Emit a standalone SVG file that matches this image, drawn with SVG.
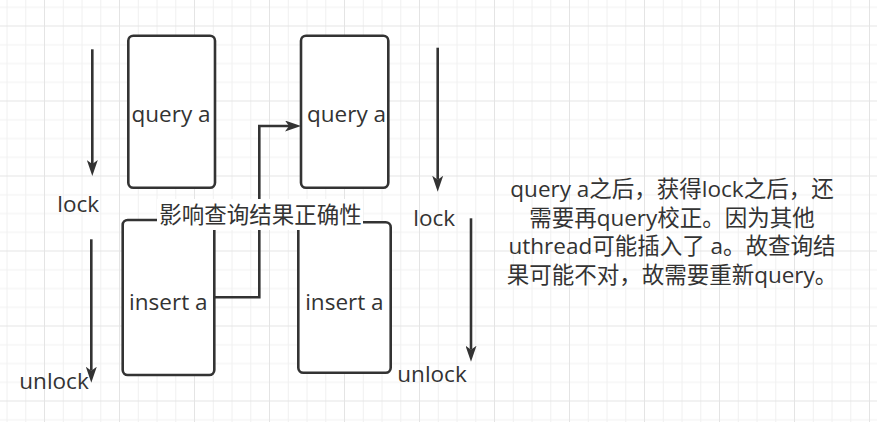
<svg xmlns="http://www.w3.org/2000/svg" width="877" height="422" viewBox="0 0 877 422">
  <style>
    .box { fill: #ffffff; stroke: #333333; stroke-width: 2.6; }
    .t { font-family: "Open Sans", "Noto Sans CJK SC", sans-serif; font-size: 22.5px; fill: #333333; }
    .c { text-anchor: middle; }
    .edge { fill: none; stroke: #333333; stroke-width: 2.6; }
    .minor { stroke: #f0f0f0; stroke-width: 1; }
    .major { stroke: #e4e4e4; stroke-width: 1; }
  </style>
  <defs>
    <pattern id="grid" patternUnits="userSpaceOnUse" x="44" y="25.5" width="75" height="75">
      <path class="minor" d="M19.25 0V75M38 0V75M56.75 0V75M0 19.25H75M0 38H75M0 56.75H75"/>
      <path class="major" d="M0.5 0V75M0 0.5H75"/>
    </pattern>
    <marker id="arrow" markerUnits="userSpaceOnUse" viewBox="0 0 16 11" markerWidth="16" markerHeight="11" refX="4" refY="5.5" orient="auto">
      <path d="M0 0L16 5.5L0 11L4 5.5Z" fill="#333333"/>
    </marker>
  </defs>
  <rect width="877" height="422" fill="#ffffff"/>
  <rect width="877" height="422" fill="url(#grid)"/>

  <g id="query-a-1">
    <rect class="box" x="128.3" y="35.7" width="86.7" height="152" rx="5"/>
    <text class="t c" x="171" y="122">query a</text>
  </g>
  <g id="query-a-2">
    <rect class="box" x="301" y="35.7" width="87.3" height="152" rx="5"/>
    <text class="t c" x="346.5" y="122">query a</text>
  </g>
  <g id="insert-a-1">
    <rect class="box" x="122.7" y="220" width="91.6" height="155" rx="5"/>
    <text class="t c" x="168.3" y="310">insert a</text>
  </g>
  <g id="insert-a-2">
    <rect class="box" x="298.3" y="222.3" width="92.4" height="150.4" rx="5"/>
    <text class="t c" x="344.4" y="310">insert a</text>
  </g>
  <g id="lock-left"><text class="t" x="57.3" y="211.5">lock</text></g>
  <g id="unlock-left"><text class="t" x="19.3" y="389">unlock</text></g>
  <g id="lock-right"><text class="t" x="413.3" y="226">lock</text></g>
  <g id="unlock-right"><text class="t" x="397.3" y="381.7">unlock</text></g>
  <g id="note">
    <text class="t c" x="672" y="197">query a之后，获得lock之后，还</text>
    <text class="t c" x="672" y="225.5">需要再query校正。因为其他</text>
    <text class="t c" x="672" y="254">uthread可能插入了 a。故查询结</text>
    <text class="t c" x="672" y="282.5">果可能不对，故需要重新query。</text>
  </g>

  <g id="connectors">
    <path class="edge" d="M92.3 49.3V164" marker-end="url(#arrow)"/>
    <path class="edge" d="M91.3 239.3V370.7" marker-end="url(#arrow)"/>
    <path class="edge" d="M437.7 47.7V179.7" marker-end="url(#arrow)"/>
    <path class="edge" d="M471 218.3V349.7" marker-end="url(#arrow)"/>
    <path class="edge" d="M215 297.3H259.3V126H289" marker-end="url(#arrow)"/>
    <g id="edge-label">
      <rect x="157" y="199" width="206" height="31" fill="#ffffff"/>
      <text class="t c" x="260.5" y="223">影响查询结果正确性</text>
    </g>
  </g>
</svg>
